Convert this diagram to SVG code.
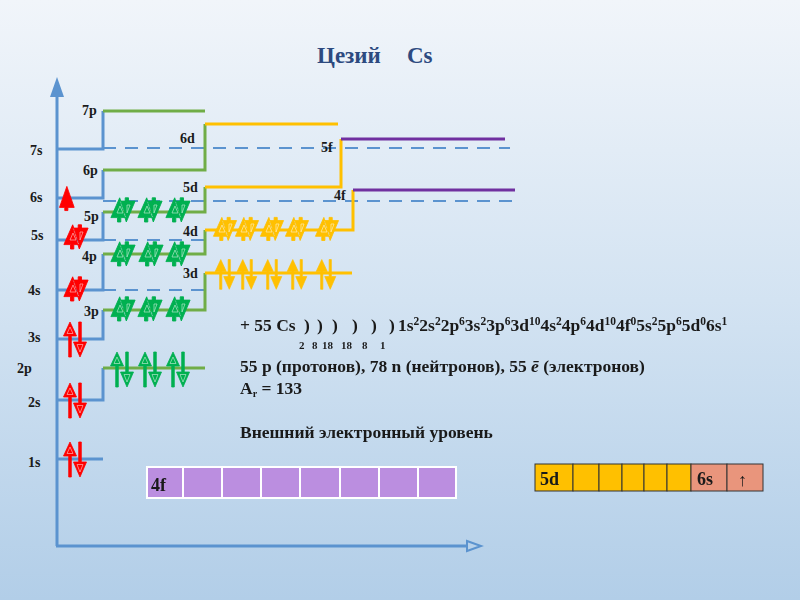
<svg xmlns="http://www.w3.org/2000/svg" xmlns:xlink="http://www.w3.org/1999/xlink" width="800" height="600" viewBox="0 0 800 600">
<defs>
<linearGradient id="bg" x1="0" y1="0" x2="0" y2="1">
<stop offset="0" stop-color="#f1f5fa"/>
<stop offset="0.5" stop-color="#d3e3f2"/>
<stop offset="1" stop-color="#b2cee8"/>
</linearGradient>
<path id="tall" d="M-5,-17 L-11.5,-3 L-6.3,-3 L-6.3,18 L-3.7,18 L-3.7,-3 L1.5,-3 Z M3.7,-17 L6.3,-17 L6.3,3 L11.5,3 L5,18 L-1.5,3 L3.7,3 Z"/>
<path id="comp" d="M-3,-12 L-11,6 L-5,6 L-5,10 L-2,10 L-2,6 L3,6 Z M-3,-9 L11,-9 L3,10 Z M2,-12 L5,-12 L5,-9 L2,-9 Z"/>
<path id="single" d="M-3,-12 L-10,8 L-5,8 L-5,11 L-2,11 L-2,8 L4,8 Z"/>
<path id="mk" d="M-5,-12 L-8,-5.5 L-2,-5.5 Z M5,13 L8,5.5 L2,5.5 Z"/>
<path id="mkc" d="M-3,-5 L-6,2 L0,2 Z M4,-6 L7,-6 L4,2 Z"/>
</defs>
<style>
.lb{font-family:"Liberation Serif","DejaVu Serif",serif;font-weight:bold;font-size:14px;fill:#1a1a1a}
.tx{font-family:"Liberation Serif","DejaVu Serif",serif;font-weight:bold;font-size:17.5px;fill:#1a1a1a}
.sm{font-family:"Liberation Serif","DejaVu Serif",serif;font-weight:bold;font-size:11px;fill:#1a1a1a}
.ttl{font-family:"Liberation Serif","DejaVu Serif",serif;font-weight:bold;font-size:23px;fill:#2d4a80}
.bl{stroke:#5b93cf;stroke-width:3;fill:none}
.gr{stroke:#70ad47;stroke-width:3;fill:none}
.ye{stroke:#ffc000;stroke-width:3;fill:none}
.pu{stroke:#7030a0;stroke-width:3;fill:none}
.da{stroke:#5b93cf;stroke-width:2;fill:none;stroke-dasharray:13 9}
.er{fill:#ff0000;stroke:#ff0000;stroke-width:0.8}
.eg{fill:#00b050;stroke:#00b050;stroke-width:0.8}
.ey{fill:#ffc000;stroke:#ffc000;stroke-width:0.8}
.mk{fill:none;stroke:#ffffff;stroke-width:0.7;opacity:0.7}
.c4f{fill:#bb8ee0;stroke:#ffffff;stroke-width:2}
.c5d{fill:#ffc000;stroke:#333333;stroke-width:1}
.c6s{fill:#e9957c;stroke:#333333;stroke-width:1}
.bx{font-family:"Liberation Serif","DejaVu Serif",serif;font-weight:bold;font-size:18px;fill:#1a1a1a}
</style>
<rect width="800" height="600" fill="url(#bg)"/>
<g id="title">
<text class="ttl" x="317" y="63">Цезий</text>
<text class="ttl" x="407" y="63">Cs</text>
</g>
<g id="axes">
<line class="bl" x1="57" y1="95" x2="57" y2="546"/>
<polygon points="57,77 50,97 64,97" fill="#5b93cf"/>
<line class="bl" x1="56" y1="546" x2="468" y2="546"/>
<polygon points="467,541 481,546 467,551" fill="none" stroke="#5b93cf" stroke-width="2"/>
</g>
<g id="connectors">
<path class="da" d="M103,290 H205 M103,240 H205 M103,201 H520 M103,148 H510"/>
<path class="bl" d="M57,459 H103 M57,400 H103 V368 M57,339 H103 V310 M57,290 H103 V254 M57,240 H103 V212 M57,198 H103 V170 M57,149 H103 V111"/>
<path class="gr" d="M103,368 H205 M103,310 H205 V273 M103,254 H205 V230 M103,212 H205 V187 M103,170 H205 V124 M103,111 H205"/>
<path class="ye" d="M205,273 H352 M205,230 H353 V190 M205,187 H341 V139 M205,124 H338"/>
<path class="pu" d="M353,190 H515 M341,139 H505"/>
</g>
<g id="labels">
<text class="lb" x="82" y="115">7p</text>
<text class="lb" x="83" y="175">6p</text>
<text class="lb" x="84" y="221">5p</text>
<text class="lb" x="82" y="261">4p</text>
<text class="lb" x="84" y="316">3p</text>
<text class="lb" x="180" y="143">6d</text>
<text class="lb" x="183" y="192">5d</text>
<text class="lb" x="183" y="236">4d</text>
<text class="lb" x="183" y="278">3d</text>
<text class="lb" x="321" y="152">5f</text>
<text class="lb" x="334" y="200">4f</text>
<text class="lb" x="30" y="155">7s</text>
<text class="lb" x="30" y="202">6s</text>
<text class="lb" x="31" y="240">5s</text>
<text class="lb" x="28" y="295">4s</text>
<text class="lb" x="28" y="342">3s</text>
<text class="lb" x="17" y="373">2p</text>
<text class="lb" x="28" y="407">2s</text>
<text class="lb" x="28" y="467">1s</text>
</g>
<g id="s-electrons" class="er">
<use href="#tall" x="75" y="459"/>
<use href="#tall" x="75" y="400"/>
<use href="#tall" x="75" y="339"/>
<g transform="translate(76,290) scale(1.1)"><use href="#comp"/></g>
<g transform="translate(76,238) scale(1.1)"><use href="#comp"/></g>
<g transform="translate(70,199) scale(1.05)"><use href="#single"/></g>
</g>
<g id="p-electrons" class="eg">
<use href="#tall" x="122" y="369"/>
<use href="#tall" x="150" y="369"/>
<use href="#tall" x="178" y="369"/>
<g transform="translate(123,310) scale(1.1)"><use href="#comp"/></g>
<g transform="translate(150,310) scale(1.1)"><use href="#comp"/></g>
<g transform="translate(178,310) scale(1.1)"><use href="#comp"/></g>
<g transform="translate(123,255) scale(1.1)"><use href="#comp"/></g>
<g transform="translate(151,255) scale(1.1)"><use href="#comp"/></g>
<g transform="translate(178,255) scale(1.1)"><use href="#comp"/></g>
<g transform="translate(123,211) scale(1.1)"><use href="#comp"/></g>
<g transform="translate(150,211) scale(1.1)"><use href="#comp"/></g>
<g transform="translate(178,211) scale(1.1)"><use href="#comp"/></g>
</g>
<g id="d-electrons" class="ey">
<g transform="translate(225,230) scale(1.05)"><use href="#comp"/></g>
<g transform="translate(247,230) scale(1.05)"><use href="#comp"/></g>
<g transform="translate(272,230) scale(1.05)"><use href="#comp"/></g>
<g transform="translate(297,230) scale(1.05)"><use href="#comp"/></g>
<g transform="translate(327,230) scale(1.05)"><use href="#comp"/></g>
<g transform="translate(225,274) scale(0.85)"><use href="#tall"/></g>
<g transform="translate(247,274) scale(0.85)"><use href="#tall"/></g>
<g transform="translate(272,274) scale(0.85)"><use href="#tall"/></g>
<g transform="translate(297,274) scale(0.85)"><use href="#tall"/></g>
<g transform="translate(326,274) scale(0.85)"><use href="#tall"/></g>
</g>
<g id="electron-marks" class="mk">
<use href="#mk" x="75" y="459"/>
<use href="#mk" x="75" y="400"/>
<use href="#mk" x="75" y="339"/>
<use href="#mk" x="122" y="369"/>
<use href="#mk" x="150" y="369"/>
<use href="#mk" x="178" y="369"/>
<use href="#mkc" x="123" y="310"/><use href="#mkc" x="150" y="310"/><use href="#mkc" x="178" y="310"/>
<use href="#mkc" x="123" y="255"/><use href="#mkc" x="151" y="255"/><use href="#mkc" x="178" y="255"/>
<use href="#mkc" x="123" y="211"/><use href="#mkc" x="150" y="211"/><use href="#mkc" x="178" y="211"/>
<use href="#mkc" x="225" y="230"/><use href="#mkc" x="247" y="230"/><use href="#mkc" x="272" y="230"/><use href="#mkc" x="297" y="230"/><use href="#mkc" x="327" y="230"/>
<use href="#mkc" x="76" y="290"/><use href="#mkc" x="76" y="238"/>
</g>
<g id="info">
<text class="tx" x="240" y="331">+ 55 Cs</text>
<text class="tx" x="304" y="331">)</text>
<text class="tx" x="317" y="331">)</text>
<text class="tx" x="332" y="331">)</text>
<text class="tx" x="352" y="331">)</text>
<text class="tx" x="371" y="331">)</text>
<text class="tx" x="389" y="331">)</text>
<text class="tx" x="398" y="331">1s<tspan font-size="11.5" dy="-6">2</tspan><tspan dy="6">2s</tspan><tspan font-size="11.5" dy="-6">2</tspan><tspan dy="6">2p</tspan><tspan font-size="11.5" dy="-6">6</tspan><tspan dy="6">3s</tspan><tspan font-size="11.5" dy="-6">2</tspan><tspan dy="6">3p</tspan><tspan font-size="11.5" dy="-6">6</tspan><tspan dy="6">3d</tspan><tspan font-size="11.5" dy="-6">10</tspan><tspan dy="6">4s</tspan><tspan font-size="11.5" dy="-6">2</tspan><tspan dy="6">4p</tspan><tspan font-size="11.5" dy="-6">6</tspan><tspan dy="6">4d</tspan><tspan font-size="11.5" dy="-6">10</tspan><tspan dy="6">4f</tspan><tspan font-size="11.5" dy="-6">0</tspan><tspan dy="6">5s</tspan><tspan font-size="11.5" dy="-6">2</tspan><tspan dy="6">5p</tspan><tspan font-size="11.5" dy="-6">6</tspan><tspan dy="6">5d</tspan><tspan font-size="11.5" dy="-6">0</tspan><tspan dy="6">6s</tspan><tspan font-size="11.5" dy="-6">1</tspan></text>
<text class="sm" x="299" y="349">2</text>
<text class="sm" x="312" y="349">8</text>
<text class="sm" x="322" y="349">18</text>
<text class="sm" x="341" y="349">18</text>
<text class="sm" x="362" y="349">8</text>
<text class="sm" x="380" y="349">1</text>
<text class="tx" x="240" y="372">55 p (протонов), 78 n (нейтронов), 55 <tspan font-style="italic">ē</tspan> (электронов)</text>
<text class="tx" x="240" y="394">A<tspan font-size="10" dy="3">r</tspan><tspan dy="-3"> = 133</tspan></text>
<text class="tx" x="240" y="438">Внешний электронный уровень</text>
</g>
<g id="box-4f">
<rect x="146" y="466" width="311" height="33" fill="#ffffff"/>
<rect class="c4f" x="147" y="467" width="36" height="31"/>
<rect class="c4f" x="183" y="467" width="39" height="31"/>
<rect class="c4f" x="222" y="467" width="39" height="31"/>
<rect class="c4f" x="261" y="467" width="39" height="31"/>
<rect class="c4f" x="300" y="467" width="40" height="31"/>
<rect class="c4f" x="340" y="467" width="39" height="31"/>
<rect class="c4f" x="379" y="467" width="39" height="31"/>
<rect class="c4f" x="418" y="467" width="38" height="31"/>
<text class="bx" x="151" y="491">4f</text>
</g>
<g id="box-5d6s">
<rect class="c5d" x="535" y="464" width="38" height="27"/>
<rect class="c5d" x="573" y="464" width="26" height="27"/>
<rect class="c5d" x="599" y="464" width="23" height="27"/>
<rect class="c5d" x="622" y="464" width="22" height="27"/>
<rect class="c5d" x="644" y="464" width="23" height="27"/>
<rect class="c5d" x="667" y="464" width="24" height="27"/>
<rect class="c6s" x="691" y="464" width="36" height="27"/>
<rect class="c6s" x="727" y="464" width="36" height="27"/>
<text class="bx" x="540" y="485">5d</text>
<text class="bx" x="697" y="485">6s</text>
<text class="bx" x="738" y="486" font-family="DejaVu Sans, sans-serif" font-weight="normal" font-size="16">↑</text>
</g>
</svg>
